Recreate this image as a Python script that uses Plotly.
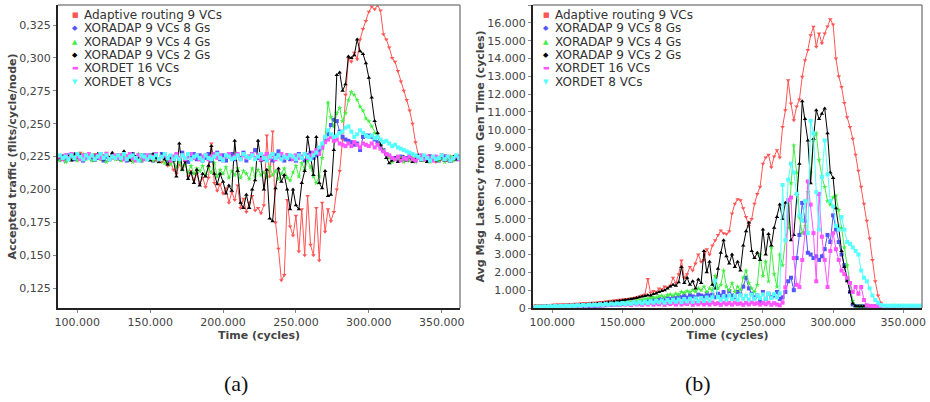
import plotly.graph_objects as go

# ---------------- data ----------------
TIME = list(range(88000, 364000, 2000))  # sampling instants (cycles)

SERIES_NAMES = ["Adaptive routing 9 VCs", "XORADAP 9 VCs 8 Gs", "XORADAP 9 VCs 4 Gs",
                "XORADAP 9 VCs 2 Gs", "XORDET 16 VCs", "XORDET 8 VCs"]

# (a) accepted traffic, in thousandths of flits/cycle/node
ACC_ADAPTIVE = [224,226,223,225,227,224,226,228,225,227,
                226,224,227,225,223,226,228,225,224,226,
                227,225,223,226,224,227,225,222,226,224,
                225,223,226,222,224,221,223,218,221,215,
                212,219,216,221,210,214,207,212,204,209,
                202,209,235,205,199,204,197,201,190,198,
                192,203,186,193,183,190,195,184,186,182,
                188,241,210,244,175,155,131,135,192,172,
                165,180,153,185,150,195,158,150,186,146,
                190,168,185,176,183,200,214,238,272,300,
                297,304,299,314,322,328,335,339,337,340,
                336,318,314,308,300,297,290,282,275,268,
                260,250,236,226,223,225,222,226,224,221,
                225,223,226,222,225,224,226,223]
ACC_XOR8 = [223,225,222,226,224,223,227,225,222,224,
            226,223,225,224,227,222,225,223,226,224,
            225,223,226,222,224,227,223,225,222,226,
            224,226,222,225,223,227,224,222,225,223,
            226,222,228,224,221,225,227,223,226,222,
            224,227,222,225,228,223,226,222,225,227,
            223,226,224,228,222,225,227,230,224,226,
            223,227,225,222,226,229,224,222,226,223,
            225,222,227,224,222,226,228,224,226,230,
            232,238,242,249,253,252,244,240,238,237,
            236,234,235,230,240,241,241,240,238,236,
            233,230,227,225,223,224,222,225,223,224,
            226,223,222,225,223,224,222,225,223,224,
            222,224,225,223,222,224,223,225]
ACC_XOR4 = [222,224,221,225,223,226,222,224,227,223,
            225,222,224,227,223,225,221,224,226,223,
            224,222,226,223,225,221,224,227,222,225,
            223,226,222,224,221,225,220,223,219,222,
            217,221,215,219,213,218,212,216,214,218,
            211,216,213,220,210,215,212,217,209,214,
            211,216,209,214,212,208,216,210,215,211,
            213,209,217,211,214,208,212,216,209,207,
            213,218,210,220,215,222,217,210,205,210,
            224,240,266,255,248,258,262,252,258,268,
            274,272,268,263,260,254,252,248,243,240,
            234,230,227,224,221,223,222,224,221,223,
            222,224,221,225,223,222,224,221,223,225,
            222,224,221,223,225,222,224,223]
ACC_XOR2 = [224,223,226,225,222,227,224,226,223,225,
            226,224,222,227,225,223,226,224,228,225,
            223,226,229,224,222,227,225,224,226,223,
            225,222,227,224,221,226,223,219,224,222,
            210,235,215,222,208,213,205,215,203,212,
            210,218,233,212,204,212,206,197,203,199,
            237,214,190,186,196,186,200,207,237,222,
            200,215,178,176,201,216,206,211,200,185,
            200,188,185,205,214,240,226,211,240,205,
            201,214,195,196,230,287,289,275,280,301,
            300,302,314,305,303,296,285,270,252,243,
            234,229,224,220,222,224,221,223,225,222,
            224,221,223,226,222,224,221,223,225,222,
            223,225,222,224,221,225,223,224]
ACC_DET16 = [225,223,226,224,227,224,225,223,226,224,
             227,225,223,226,224,225,227,223,225,226,
             224,226,223,225,227,224,222,226,225,223,
             226,224,225,227,223,225,226,224,222,225,
             227,224,226,223,225,227,224,226,223,225,
             226,223,225,227,224,226,222,225,227,224,
             225,227,223,226,224,225,227,224,226,223,
             225,227,224,226,223,225,227,224,226,225,
             223,226,224,225,227,224,226,228,230,227,
             232,236,238,240,237,238,235,234,233,235,
             233,236,234,232,235,234,233,235,232,234,
             231,229,227,226,224,223,225,222,224,223,
             225,223,222,224,226,223,225,224,222,225,
             224,226,223,225,222,224,225,223]
ACC_DET8 = [226,224,225,223,226,224,227,225,223,226,
            224,226,223,225,227,224,226,223,225,224,
            226,224,227,223,225,226,224,222,226,225,
            223,225,224,226,223,225,227,224,226,223,
            225,223,226,224,227,223,225,226,224,222,
            226,224,223,225,227,224,222,226,225,223,
            224,226,223,227,225,224,226,223,225,227,
            224,222,225,227,224,226,223,225,224,226,
            225,223,226,224,227,225,223,226,228,232,
            235,240,245,242,240,241,243,244,247,248,
            244,240,242,245,243,241,240,241,239,240,
            238,236,237,235,233,234,232,231,230,229,
            228,227,226,225,223,226,224,222,225,223,
            224,226,223,225,222,224,226,224]

# (b) average message latency from generation time (cycles)
LAT_ADAPTIVE = [150,155,160,165,170,175,180,190,195,200,
                205,210,220,225,235,240,250,260,270,280,
                290,300,310,330,340,360,380,400,420,440,
                460,480,510,490,540,560,600,650,700,760,
                1630,850,950,900,1100,1050,1200,1150,1250,1700,
                1400,1900,2660,1700,1900,2300,2100,2500,3000,2600,
                2700,3300,3000,3500,3800,4100,4350,4200,4150,4300,
                5300,5850,6100,6050,5600,5100,4600,5000,5850,6400,
                6800,8100,8450,8600,7900,8500,8850,8450,10160,11100,
                12780,11470,10530,11300,11700,12970,13900,14470,15300,15780,
                14660,15400,14850,15400,15800,16200,15900,14000,13000,12400,
                11500,10700,10160,9500,8600,7700,6800,5850,4900,3900,
                2700,1500,700,300,150,140,135,140,130,135,
                130,140,135,130,140,135,130,135]
LAT_XOR8 = [30,32,35,38,40,42,45,48,50,55,
            60,65,70,75,80,85,90,95,100,110,
            115,120,130,140,150,160,170,180,190,200,
            210,220,240,260,280,300,320,330,350,380,
            400,380,450,420,500,470,520,550,500,600,
            550,650,600,700,580,720,650,600,750,700,
            650,800,700,750,600,800,700,900,650,950,
            700,600,900,750,1200,1700,1100,800,600,700,
            400,900,500,800,600,700,900,500,600,900,
            1500,1700,1000,2800,4100,5900,4900,3100,3000,2800,
            2900,2700,2900,3300,4100,3700,5200,4400,3700,3000,
            2400,1600,900,200,100,95,100,95,100,95,
            100,95,100,95,100,95,100,95,100,95,
            100,95,100,95,100,95,100,95]
LAT_XOR4 = [50,55,60,60,65,70,75,80,85,90,
            95,100,105,110,120,125,130,140,150,160,
            170,180,190,200,210,220,230,240,250,260,
            280,300,310,330,350,380,400,430,460,500,
            530,560,600,580,650,700,620,720,760,700,
            800,750,900,850,950,880,1000,920,1100,1000,
            1200,900,1100,1000,1800,1100,1300,2100,1200,1000,
            1400,900,1200,1000,1700,2100,1400,1100,900,1300,
            3000,1800,2600,1500,3400,1900,1200,3000,2400,3800,
            4500,7000,9130,7600,5100,4200,4600,6500,7600,9400,
            9800,8300,7400,6800,6000,5800,6200,6300,5500,4500,
            3400,2400,1300,400,110,100,105,100,110,100,
            105,100,110,100,105,100,110,100,105,100,
            100,105,100,110,100,105,100,110]
LAT_XOR2 = [80,85,90,95,100,105,110,115,120,125,
            130,140,145,150,160,170,180,190,200,210,
            220,235,250,265,280,300,320,340,360,380,
            400,420,450,480,500,530,560,600,640,680,
            720,700,780,820,900,950,1000,1100,1200,1300,
            1250,1450,2300,1400,1700,1300,1500,1100,1600,1400,
            3200,2000,2600,1300,1100,2200,3100,3800,2900,2500,
            3000,2300,2600,2100,3500,4300,4800,3200,2800,3100,
            2700,4400,3000,4150,3500,4500,5100,5800,5000,5900,
            6000,3800,4100,6400,8100,11600,10600,9400,7000,9500,
            11100,10600,10900,11200,9800,7600,7300,5600,4500,3200,
            2300,1500,900,250,110,100,105,100,110,100,
            105,100,110,100,105,100,110,100,105,100,
            100,105,100,110,100,105,100,110]
LAT_DET16 = [40,60,50,70,55,80,65,90,70,100,
             80,110,90,120,100,140,110,150,120,160,
             130,170,140,190,150,200,160,220,170,230,
             180,240,190,250,170,260,200,240,180,270,
             200,280,190,260,210,300,180,280,220,290,
             190,310,200,270,230,320,180,290,210,300,
             200,280,190,310,220,270,180,300,210,280,
             190,300,220,260,180,290,200,310,230,270,
             190,280,210,300,180,270,200,150,300,1160,
             6060,6200,2800,1300,1180,2700,4200,7100,5800,4200,
             1500,6400,4000,2700,1180,3200,4200,3300,2700,2100,
             1900,1700,1400,900,1180,800,1180,450,150,120,
             110,100,115,105,100,110,100,105,110,100,
             105,100,110,100,105,110,100,105]
LAT_DET8 = [60,80,70,90,75,100,85,110,90,120,
            100,130,110,140,120,150,130,170,140,180,
            150,190,160,210,170,230,180,250,200,260,
            210,280,220,300,230,320,250,340,260,360,
            280,380,300,400,320,420,300,450,330,460,
            350,480,330,500,370,520,350,540,380,560,
            400,580,420,600,1540,620,450,640,480,700,
            500,660,470,720,520,690,480,750,510,700,
            550,760,520,800,560,780,600,820,6900,3800,
            7200,8100,7600,6400,5200,4900,6000,4200,10500,9800,
            6500,4400,7350,9400,7500,6000,5700,4600,4400,5100,
            4400,3700,3600,3400,3200,3000,2100,1700,1500,1100,
            700,450,300,170,120,130,120,125,130,120,
            125,130,120,125,130,120,125,130]

X_TICKS = [100000, 150000, 200000, 250000, 300000, 350000]
X_TICK_TEXT = ["100.000", "150.000", "200.000", "250.000", "300.000", "350.000"]
ACC_TICKS = [0.125, 0.150, 0.175, 0.200, 0.225, 0.250, 0.275, 0.300, 0.325]
ACC_TICK_TEXT = ["0,125", "0,150", "0,175", "0,200", "0,225", "0,250", "0,275", "0,300", "0,325"]
LAT_TICKS = [0, 1000, 2000, 3000, 4000, 5000, 6000, 7000, 8000, 9000,
             10000, 11000, 12000, 13000, 14000, 15000, 16000, 17000]
LAT_TICK_TEXT = ["0", "1.000", "2.000", "3.000", "4.000", "5.000", "6.000", "7.000", "8.000",
                 "9.000", "10.000", "11.000", "12.000", "13.000", "14.000", "15.000",
                 "16.000", "17.000"]

ACC_SERIES = [ACC_ADAPTIVE, ACC_XOR8, ACC_XOR4, ACC_XOR2, ACC_DET16, ACC_DET8]
LAT_SERIES = [LAT_ADAPTIVE, LAT_XOR8, LAT_XOR4, LAT_XOR2, LAT_DET16, LAT_DET8]

# ---------------- style ----------------
COLORS = ["#ff5555", "#5555ff", "#44ee44", "#000000", "#ff55ff", "#55ffff"]
SYMBOLS = ["triangle-down", "square", "star", "triangle-up", "square", "square"]
LEGEND_GLYPHS = ["■", "◆", "▲", "◆", "▬", "▼"]
W, H = 930, 402
FONT = "DejaVu Sans"


def px(x):
    return x / W


def py(y):
    return 1 - y / H


fig = go.Figure()
for vals, name, col, sym in zip(ACC_SERIES, SERIES_NAMES, COLORS, SYMBOLS):
    fig.add_trace(go.Scatter(x=TIME, y=[v / 1000 for v in vals], name=name, mode="lines+markers",
                             line=dict(color=col, width=1), marker=dict(color=col, size=4, symbol=sym),
                             xaxis="x", yaxis="y", showlegend=False))
for vals, name, col, sym in zip(LAT_SERIES, SERIES_NAMES, COLORS, SYMBOLS):
    fig.add_trace(go.Scatter(x=TIME, y=vals, name=name, mode="lines+markers",
                             line=dict(color=col, width=1), marker=dict(color=col, size=4, symbol=sym),
                             xaxis="x2", yaxis="y2", showlegend=False))

tickfont = dict(family=FONT, size=11, color="#444444")
titlefont = dict(family=FONT, size=11, color="#444444", weight="bold")
ydom = [py(308), py(5)]
common_axis = dict(showgrid=False, zeroline=False, ticks="outside", ticklen=3, tickcolor="#888888",
                   showline=True, linecolor="#222222", linewidth=2, tickfont=tickfont,
                   automargin=False)

fig.update_layout(
    width=W, height=H, margin=dict(l=0, r=0, t=0, b=0, autoexpand=False),
    paper_bgcolor="white", plot_bgcolor="white",
    xaxis=dict(domain=[px(58), px(460)], range=[86760, 362550], anchor="y",
               tickvals=X_TICKS, ticktext=X_TICK_TEXT,
               title=dict(text="Time (cycles)", font=titlefont, standoff=2), **common_axis),
    yaxis=dict(domain=ydom, range=[0.110, 0.3402], anchor="x",
               tickvals=ACC_TICKS, ticktext=ACC_TICK_TEXT,
               title=dict(text="Accepted traffic (flits/cycle/node)", font=titlefont, standoff=0),
               **common_axis),
    xaxis2=dict(domain=[px(533), px(922)], range=[86250, 363300], anchor="y2",
                tickvals=X_TICKS, ticktext=X_TICK_TEXT,
                title=dict(text="Time (cycles)", font=titlefont, standoff=2), **common_axis),
    yaxis2=dict(domain=ydom, range=[0, 17000], anchor="x2",
                tickvals=LAT_TICKS, ticktext=LAT_TICK_TEXT,
                title=dict(text="Avg Msg Latency from Gen Time (cycles)", font=titlefont, standoff=0),
                **common_axis),
)

# gray top/right frame
for xr, yr in (("x domain", "y domain"), ("x2 domain", "y2 domain")):
    fig.add_shape(type="line", xref=xr, yref=yr, x0=0, x1=1, y0=1, y1=1,
                  line=dict(color="#888888", width=1.5))
    fig.add_shape(type="line", xref=xr, yref=yr, x0=1, x1=1, y0=0, y1=1,
                  line=dict(color="#888888", width=1.5))

# legends (one per panel)
LEG_ROWS = [15, 28.3, 41.6, 55, 68.3, 81.6]
for sym_x, txt_x in ((75, 81.5), (546, 552.5)):
    for name, col, glyph, yy in zip(SERIES_NAMES, COLORS, LEGEND_GLYPHS, LEG_ROWS):
        fig.add_annotation(x=px(sym_x), y=py(yy), xref="paper", yref="paper", text=glyph,
                           showarrow=False, xanchor="center", yanchor="middle",
                           font=dict(family=FONT, size=7, color=col))
        fig.add_annotation(x=px(txt_x), y=py(yy), xref="paper", yref="paper", text=name,
                           showarrow=False, xanchor="left", yanchor="middle",
                           font=dict(family=FONT, size=12, color="#333333"))

# sub-captions
for lab, cx in (("(a)", 236.5), ("(b)", 698)):
    fig.add_annotation(x=px(cx), y=py(383), xref="paper", yref="paper", text=lab, showarrow=False,
                       xanchor="center", yanchor="middle",
                       font=dict(family="Liberation Serif", size=22, color="#111111"))

fig.write_html("out.html", config={"displayModeBar": False},
               post_script="document.body.style.margin='0px';")
